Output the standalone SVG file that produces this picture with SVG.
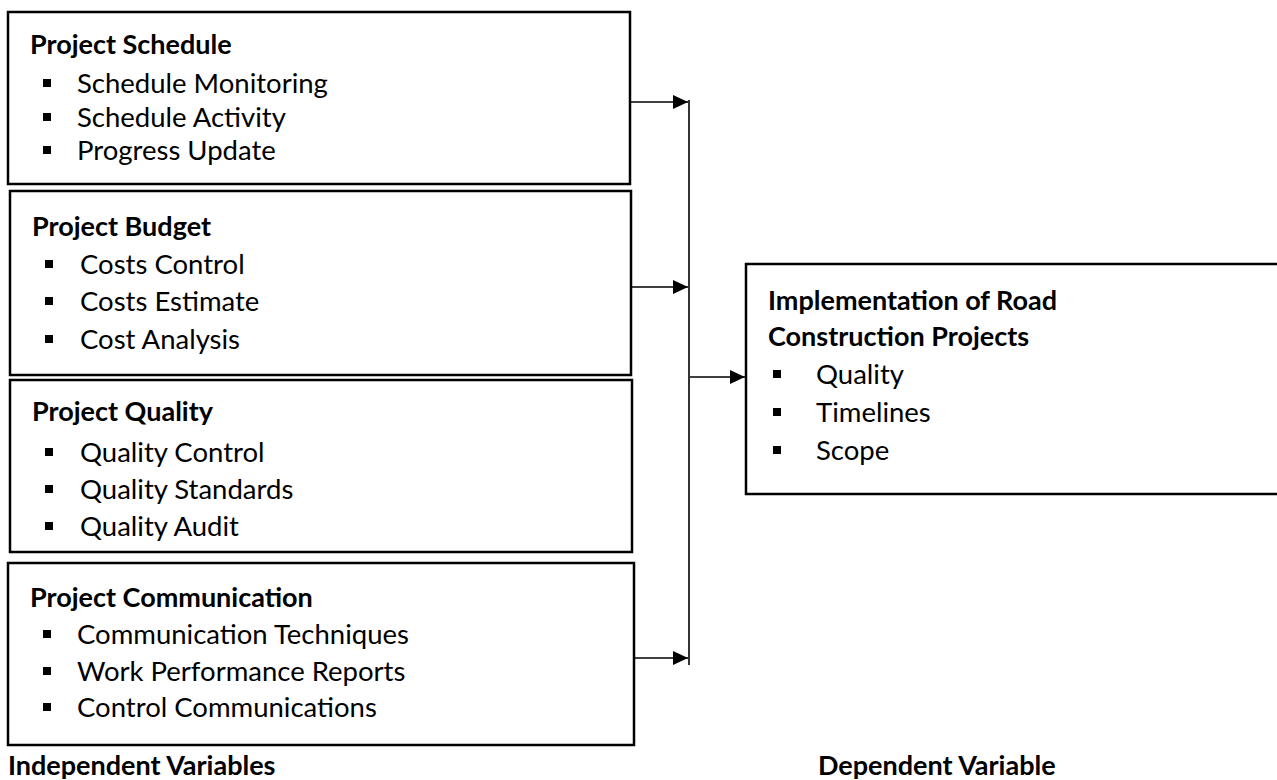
<svg xmlns="http://www.w3.org/2000/svg" width="1277" height="780" viewBox="0 0 1277 780">
  <defs>
    <style>
      .box { fill: #fff; stroke: #000; stroke-width: 2.5; }
      .wire { fill: none; stroke: #000; stroke-width: 1.6; }
      .title { font-family: Lato, "Liberation Sans", sans-serif; font-weight: bold; font-size: 27px; fill: #000; }
      .item { font-family: Lato, "Liberation Sans", sans-serif; font-size: 27.5px; fill: #000; }
      .bul { fill: #000; }
    </style>
    <marker id="arrow" markerWidth="15" markerHeight="14" refX="15" refY="7" orient="auto" markerUnits="userSpaceOnUse">
      <path d="M0,0 L15,7 L0,14 Z" fill="#000"/>
    </marker>
    <rect id="sq" width="8" height="8" class="bul"/>
  </defs>
  <rect width="1277" height="780" fill="#fff"/>

  <!-- Independent variable: schedule -->
  <g id="node-schedule">
    <rect class="box" x="8" y="12" width="622" height="172"/>
    <text class="title" x="30" y="54">Project Schedule</text>
    <use href="#sq" x="43" y="79"/>
    <text class="item" x="77" y="93">Schedule Monitoring</text>
    <use href="#sq" x="43" y="113"/>
    <text class="item" x="77" y="127">Schedule Activity</text>
    <use href="#sq" x="43" y="146"/>
    <text class="item" x="77" y="160">Progress Update</text>
  </g>

  <!-- Independent variable: budget -->
  <g id="node-budget">
    <rect class="box" x="10" y="191" width="621" height="184"/>
    <text class="title" x="32" y="236">Project Budget</text>
    <use href="#sq" x="45" y="260"/>
    <text class="item" x="80" y="274">Costs Control</text>
    <use href="#sq" x="45" y="297"/>
    <text class="item" x="80" y="311">Costs Estimate</text>
    <use href="#sq" x="45" y="335"/>
    <text class="item" x="80" y="349">Cost Analysis</text>
  </g>

  <!-- Independent variable: quality -->
  <g id="node-quality">
    <rect class="box" x="10" y="380" width="622" height="172"/>
    <text class="title" x="32" y="421">Project Quality</text>
    <use href="#sq" x="45" y="448"/>
    <text class="item" x="80" y="462">Quality Control</text>
    <use href="#sq" x="45" y="485"/>
    <text class="item" x="80" y="499">Quality Standards</text>
    <use href="#sq" x="45" y="522"/>
    <text class="item" x="80" y="536">Quality Audit</text>
  </g>

  <!-- Independent variable: communication -->
  <g id="node-communication">
    <rect class="box" x="8" y="563" width="626" height="182"/>
    <text class="title" x="30" y="607">Project Communication</text>
    <use href="#sq" x="43" y="630"/>
    <text class="item" x="77" y="644">Communication Techniques</text>
    <use href="#sq" x="43" y="667"/>
    <text class="item" x="77" y="681">Work Performance Reports</text>
    <use href="#sq" x="43" y="703"/>
    <text class="item" x="77" y="717">Control Communications</text>
  </g>

  <!-- Dependent variable -->
  <g id="node-implementation">
    <rect class="box" x="746" y="264" width="545" height="230"/>
    <text class="title" x="768" y="310">Implementation of Road</text>
    <text class="title" x="768" y="346">Construction Projects</text>
    <use href="#sq" x="773" y="370"/>
    <text class="item" x="816" y="384">Quality</text>
    <use href="#sq" x="773" y="408"/>
    <text class="item" x="816" y="422">Timelines</text>
    <use href="#sq" x="773" y="446"/>
    <text class="item" x="816" y="460">Scope</text>
  </g>

  <!-- Connectors -->
  <g id="connectors">
    <line class="wire" x1="630" y1="102" x2="688" y2="102" marker-end="url(#arrow)"/>
    <line class="wire" x1="631" y1="287" x2="688" y2="287" marker-end="url(#arrow)"/>
    <line class="wire" x1="634" y1="658" x2="688" y2="658" marker-end="url(#arrow)"/>
    <line class="wire" x1="689" y1="100" x2="689" y2="665"/>
    <line class="wire" x1="690" y1="377" x2="745" y2="377" marker-end="url(#arrow)"/>
  </g>

  <!-- Captions -->
  <g id="captions">
    <text class="title" x="8" y="775">Independent Variables</text>
    <text class="title" x="818" y="775">Dependent Variable</text>
  </g>
</svg>
